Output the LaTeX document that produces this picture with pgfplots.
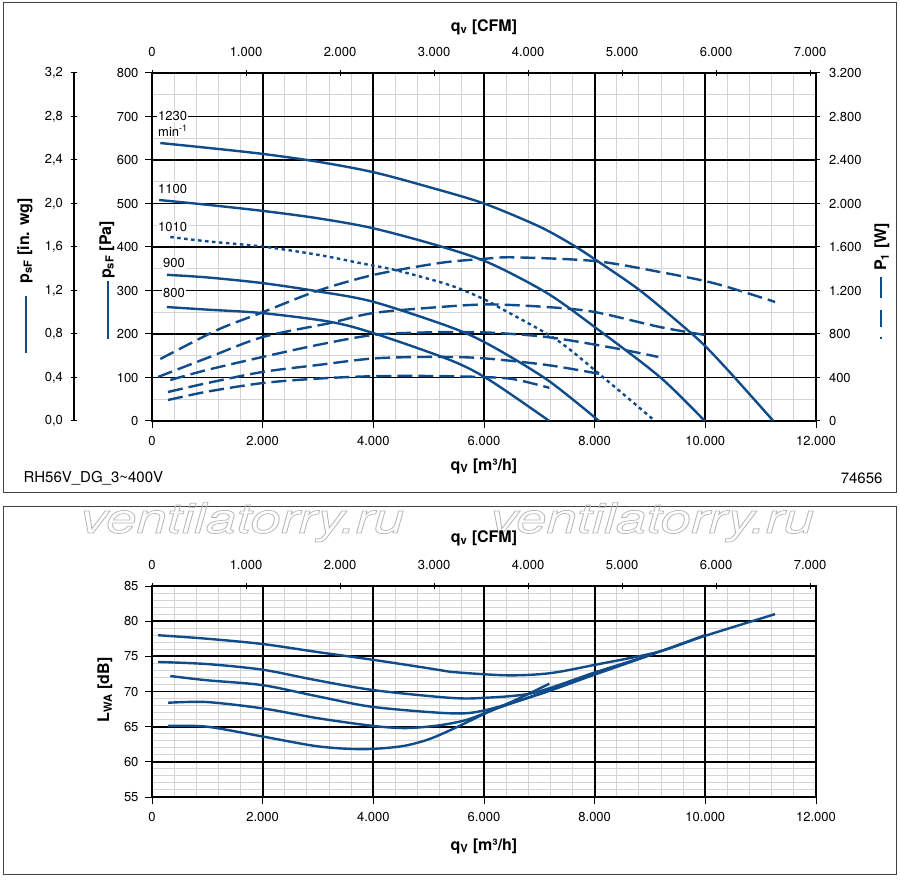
\documentclass[border=0pt]{standalone}
\usepackage{fontspec}
\setmainfont{TeX Gyre Heros}
\usepackage{pgfplots}
\pgfplotsset{compat=1.18}
\definecolor{cb}{RGB}{16,76,138}
\definecolor{mg}{RGB}{212,212,212}
\newcommand\tl{\fontsize{13}{15}\selectfont}
\newcommand\fl{\fontsize{15}{17}\selectfont}
\newcommand\bl{\fontsize{16}{18}\selectfont\bfseries}
\newcommand\wmark{\scalebox{1.3}[1]{\special{pdf:literal direct 1 Tr 0.72 G 0.7 w}ventilatorry.ru\special{pdf:literal direct 0 Tr 0 G 1 w}}}
\pgfplotsset{
 every axis/.append style={scale only axis, anchor=south west, width=664pt,
   scaled x ticks=false, scaled y ticks=false,
   tick align=outside, major tick length=7pt, minor tick length=0pt,
   tick style={black,line width=1pt}, ticklabel style={font=\tl},
   axis line style={black,line width=1.6pt}},
 pcurve/.style={cb, line width=2.4pt, smooth},
 wcurve/.style={cb, line width=2.4pt, smooth, dash pattern=on 15pt off 6pt},
 lcurve/.style={cb, line width=2.4pt, smooth},
 mxt/.style={xtick={0,2000,4000,6000,8000,10000,12000},
   minor xtick={400,800,1200,1600,2400,2800,3200,3600,4400,4800,5200,5600,6400,6800,7200,7600,8400,8800,9200,9600,10400,10800,11200,11600}},
 cfm/.style={xmin=0,xmax=7062.93,ymin=0,ymax=1,
   axis y line=none, axis x line=top, axis line style={-}, major tick length=6pt,
   xtick={0,1000,2000,3000,4000,5000,6000,7000},
   xticklabels={0,1.000,2.000,3.000,4.000,5.000,6.000,7.000},
   xticklabel style={yshift=10pt}},
}
\begin{document}
\begin{tikzpicture}[x=1pt,y=1pt]
\path (0,0) rectangle (900,879);
% frames
\draw[black!75, line width=1pt] (3,386) rectangle (896,876);
\draw[black!75, line width=1pt] (3,5) rectangle (896,372);

% watermark
\node[anchor=base west, inner sep=0pt, font=\fontsize{42}{42}\selectfont\itshape] at (80,346) {\wmark};
\node[anchor=base west, inner sep=0pt, font=\fontsize{42}{42}\selectfont\itshape] at (490,346) {\wmark};

% ===== TOP PANEL =====
\begin{axis}[at={(152pt,458pt)}, height=348pt, xmin=0,xmax=12000,ymin=0,ymax=800, mxt,
 xticklabels={0,2.000,4.000,6.000,8.000,10.000,12.000},
 xticklabel style={yshift=-5pt},
 ytick={0,100,200,300,400,500,600,700,800},
 yticklabels={0,100,200,300,400,500,600,700,800},
 yticklabel style={xshift=-3pt},
 minor y tick num=1,
 grid=minor, minor grid style={mg,line width=1pt},
 tick pos=left]
\end{axis}
\begin{axis}[at={(152pt,458pt)}, height=348pt, xmin=0,xmax=12000,ymin=0,ymax=800, mxt,
 xticklabels={}, ytick={0,100,200,300,400,500,600,700,800}, yticklabels={},
 grid=major, major grid style={black,line width=1.8pt},
 tick pos=left]
\addplot[pcurve] coordinates {(150,639) (1000,628) (2000,614) (3000,596) (4000,572) (5000,538) (6000,500) (7000,447) (7600,405) (8000,372) (8820,300) (9670,210) (10030,168) (10500,104) (11230,0)};
\addplot[pcurve] coordinates {(130,508) (1000,497) (2000,483) (3000,466) (4000,443) (5200,402) (6100,363) (7140,294) (8000,216) (9180,101) (9990,0)};
\addplot[pcurve, dash pattern=on 3.5pt off 3.5pt] coordinates {(330,423) (1000,413) (2000,401) (3000,382) (3800,362) (4430,346) (5390,312) (6000,280) (6290,260) (7320,186) (8150,101) (9090,0)};
\addplot[pcurve] coordinates {(270,336) (1000,330) (2000,317) (3000,298) (4000,274) (5390,216) (6100,175) (7140,95) (8080,0)};
\addplot[pcurve] coordinates {(270,262) (1000,256) (2000,248) (3220,228) (4000,202) (5390,140) (6100,94) (7180,0)};
\node[anchor=west, fill=white, inner sep=1pt, font=\tl] at (axis cs:90,701) {1230};
\node[anchor=west, inner sep=1pt, font=\tl] at (axis cs:90,667) {min\textsuperscript{-1}};
\node[anchor=west, fill=white, inner sep=1pt, font=\tl] at (axis cs:90,533) {1100};
\node[anchor=west, fill=white, inner sep=1pt, font=\tl] at (axis cs:90,446) {1010};
\node[anchor=west, fill=white, inner sep=1pt, font=\tl] at (axis cs:180,363) {900};
\node[anchor=west, fill=white, inner sep=1pt, font=\tl] at (axis cs:180,294) {800};
\end{axis}

% in. wg axis
\begin{axis}[at={(74pt,458pt)}, width=1pt, height=348pt, xmin=0,xmax=1,ymin=0,ymax=3.2,
 axis x line=none, axis y line=left, axis line style={-},
 ytick={0,0.4,0.8,1.2,1.6,2.0,2.4,2.8,3.2},
 yticklabel style={xshift=-4pt},
 yticklabels={{0,0},{0,4},{0,8},{1,2},{1,6},{2,0},{2,4},{2,8},{3,2}}]
\end{axis}

% CFM axis top
\begin{axis}[at={(152pt,458pt)}, height=348pt, cfm]
\end{axis}

% P1 axis
\begin{axis}[at={(152pt,458pt)}, height=348pt, xmin=0,xmax=12000,ymin=0,ymax=3200,
 axis x line=none, axis y line=right, axis line style={-},
 ytick={0,400,800,1200,1600,2000,2400,2800,3200},
 yticklabel style={xshift=6pt},
 yticklabels={0,400,800,1.200,1.600,2.000,2.400,2.800,3.200}]
\addplot[wcurve] coordinates {(150,570) (1180,837) (2000,1000) (2980,1195) (4000,1343) (5200,1453) (5980,1490) (6530,1505) (8000,1471) (9180,1370) (10140,1269) (11040,1131) (11260,1094)};
\addplot[wcurve] coordinates {(110,405) (1000,580) (2000,772) (3220,901) (4000,993) (5200,1048) (6100,1072) (7140,1048) (8000,1002) (9180,864) (9990,791)};
\addplot[wcurve] coordinates {(330,377) (1000,470) (2000,589) (3000,700) (4000,791) (5000,815) (6000,815) (7140,772) (8350,671) (9150,589)};
\addplot[wcurve] coordinates {(290,267) (1000,349) (2000,451) (3000,515) (4000,575) (5000,589) (5930,579) (7140,515) (8100,432)};
\addplot[wcurve] coordinates {(290,193) (1000,270) (2000,349) (3000,390) (4000,412) (5000,414) (5930,405) (6530,385) (7180,305)};
\end{axis}

% labels top panel
\node[font=\bl] at (484,852) {q\textsubscript{v} [CFM]};
\node[font=\bl] at (484,413) {q\textsubscript{V} [m³/h]};
\node[font=\bl, rotate=90] at (25,638) {p\textsubscript{sF} [in. wg]};
\draw[cb, line width=2.5pt] (26,583) -- (26,526);
\node[font=\bl, rotate=90] at (107,629) {p\textsubscript{sF} [Pa]};
\draw[cb, line width=2.5pt] (108,598) -- (108,540);
\node[font=\bl, rotate=90] at (882,632) {P\textsubscript{1} [W]};
\draw[cb, line width=2.5pt] (881,602) -- (881,581);
\draw[cb, line width=2.5pt] (881,569) -- (881,552);
\draw[cb, line width=2.5pt] (881,542) -- (881,540);
\node[font=\fl, anchor=west] at (20,401) {RH56V\_DG\_3\textasciitilde400V};
\node[font=\fl, anchor=east] at (886,401) {74656};

% ===== BOTTOM PANEL =====
\begin{axis}[at={(152pt,82pt)}, height=211pt, xmin=0,xmax=12000,ymin=55,ymax=85, mxt,
 xticklabels={0,2.000,4.000,6.000,8.000,10.000,12.000},
 xticklabel style={yshift=-5pt},
 ytick={55,60,65,70,75,80,85},
 yticklabels={55,60,65,70,75,80,85},
 yticklabel style={xshift=-3pt},
 minor y tick num=4,
 grid=minor, minor grid style={mg,line width=1pt},
 tick pos=left]
\end{axis}
\begin{axis}[at={(152pt,82pt)}, height=211pt, xmin=0,xmax=12000,ymin=55,ymax=85, mxt,
 xticklabels={}, ytick={55,60,65,70,75,80,85}, yticklabels={},
 grid=major, major grid style={black,line width=1.8pt},
 tick pos=left]
\addplot[lcurve] coordinates {(110,78.0) (1000,77.5) (2000,76.75) (3000,75.6) (4000,74.5) (5000,73.3) (5390,72.8) (6420,72.3) (7190,72.6) (8010,73.8) (9130,75.6) (9990,77.9) (11260,81.0)};
\addplot[lcurve] coordinates {(110,74.2) (1000,73.9) (2000,73.1) (2910,71.7) (4000,70.2) (5390,69.1) (6000,69.1) (6890,69.8) (8000,72.7) (9000,75.2) (9990,78.0)};
\addplot[lcurve] coordinates {(330,72.2) (990,71.6) (2000,70.9) (3000,69.3) (4000,67.8) (5390,66.9) (6000,67.3) (7000,69.6) (8000,72.4) (9090,75.4)};
\addplot[lcurve] coordinates {(290,68.4) (990,68.5) (2000,67.6) (3000,66.2) (4000,65.1) (4600,64.8) (5200,65.2) (5700,66.0) (6200,67.5) (7000,69.7) (8080,72.9)};
\addplot[lcurve] coordinates {(290,65.1) (990,65.0) (2000,63.6) (3000,62.2) (3800,61.8) (4500,62.2) (5000,63.2) (5500,64.9) (6000,66.8) (6600,68.9) (7180,71.1)};
\end{axis}

\begin{axis}[at={(152pt,82pt)}, height=211pt, cfm]
\end{axis}

\node[font=\bl] at (484,341) {q\textsubscript{v} [CFM]};
\node[font=\bl] at (484,33) {q\textsubscript{V} [m³/h]};
\node[font=\bl, rotate=90] at (105,189) {L\textsubscript{WA} [dB]};
\end{tikzpicture}
\end{document}
